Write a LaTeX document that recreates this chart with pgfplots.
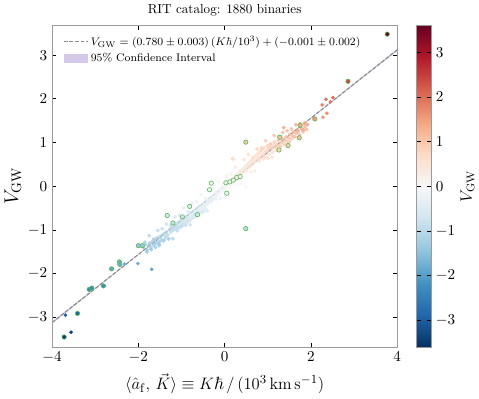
\documentclass[border=0pt]{standalone}
\usepackage{pgfplots}
\pgfplotsset{compat=1.18}
\usepackage{pgfplotstable}
\usepackage{amsmath,amssymb}

\definecolor{ringgreen}{HTML}{5DB85D}
\definecolor{ciband}{HTML}{D5C8E8}
\definecolor{fitgray}{HTML}{8C8C8C}
\definecolor{framegray}{HTML}{9A9A9A}

% dense part of the catalogue
\pgfplotstableread{
x y
-1.88 -1.40
-1.84 -1.33
-1.80 -1.45
-1.77 -1.36
-1.74 -1.30
-1.71 -1.41
-1.68 -1.27
-1.65 -1.35
-1.62 -1.22
-1.60 -1.31
-1.57 -1.18
-1.55 -1.27
-1.52 -1.36
-1.50 -1.15
-1.47 -1.21
-1.45 -1.12
-1.42 -1.25
-1.40 -1.08
-1.37 -1.16
-1.35 -1.04
-1.32 -1.11
-1.30 -1.20
-1.27 -0.98
-1.25 -1.05
-1.22 -0.94
-1.20 -1.01
-1.18 -0.90
-1.16 -0.97
-1.14 -0.86
-1.12 -0.93
-1.10 -1.02
-1.08 -0.82
-1.06 -0.89
-1.04 -0.95
-1.02 -0.78
-1.00 -0.84
-0.98 -0.90
-0.96 -0.74
-0.94 -0.80
-0.92 -0.86
-0.90 -0.69
-0.88 -0.76
-0.86 -0.82
-0.84 -0.64
-0.82 -0.72
-0.80 -0.78
-0.78 -0.60
-0.76 -0.67
-0.74 -0.73
-0.72 -0.56
-0.70 -0.63
-0.68 -0.70
-0.66 -0.52
-0.64 -0.59
-0.62 -0.66
-0.60 -0.47
-0.58 -0.55
-0.56 -0.61
-0.54 -0.43
-0.52 -0.50
-0.50 -0.57
-0.48 -0.39
-0.46 -0.45
-0.44 -0.52
-0.42 -0.35
-0.41 -0.41
-0.39 -0.33
-0.37 -0.38
-0.35 -0.30
-0.33 -0.26
-0.31 -0.34
-0.29 -0.22
-0.27 -0.28
-0.25 -0.19
-0.23 -0.25
-0.21 -0.15
-0.19 -0.21
-0.17 -0.12
-0.15 -0.18
-0.13 -0.08
-0.11 -0.14
-0.09 -0.05
-0.07 -0.10
-0.05 -0.02
-0.03 -0.07
-0.01 0.01
0.01 -0.03
0.03 0.04
0.05 0.00
0.07 0.08
0.09 0.03
0.11 0.11
0.13 0.06
0.15 0.14
0.17 0.09
0.19 0.18
0.21 0.12
0.23 0.21
0.25 0.15
0.27 0.25
0.29 0.19
0.31 0.28
0.33 0.22
0.35 0.32
0.37 0.26
0.39 0.36
0.41 0.30
0.43 0.40
0.45 0.34
0.47 0.44
0.49 0.38
0.51 0.48
0.53 0.41
0.55 0.52
0.57 0.45
0.59 0.56
0.61 0.48
0.63 0.60
0.65 0.52
0.67 0.64
0.69 0.56
0.71 0.68
0.73 0.59
0.75 0.72
0.77 0.63
0.79 0.76
0.81 0.66
0.83 0.80
0.85 0.70
0.87 0.84
0.89 0.73
0.91 0.88
0.93 0.77
0.95 0.66
0.97 0.81
0.99 0.92
1.01 0.84
1.03 0.73
1.05 0.88
1.07 0.97
1.09 0.87
1.11 0.78
1.13 0.92
1.15 1.01
1.17 0.90
1.19 0.82
1.21 0.96
1.24 1.05
1.27 0.93
1.30 1.00
1.33 1.09
1.36 0.98
1.39 1.05
1.42 1.13
1.45 1.03
1.48 1.11
1.51 1.19
1.54 1.08
1.57 1.16
1.60 1.24
1.63 1.13
1.66 1.21
1.70 1.28
1.74 1.18
1.78 1.32
1.82 1.25
1.86 1.36
1.90 1.30
-1.85 -1.28
-1.80 -1.50
-1.75 -1.13
-1.70 -1.45
-1.65 -1.21
-1.60 -1.40
-1.55 -1.01
-1.50 -1.27
-1.45 -0.97
-1.40 -1.23
-1.35 -0.87
-1.30 -1.21
-1.25 -0.90
-1.20 -1.20
-1.15 -0.70
-1.10 -0.96
-1.05 -0.66
-1.00 -0.92
-0.95 -0.50
-0.90 -0.90
-0.85 -0.58
-0.80 -0.88
-0.75 -0.39
-0.70 -0.65
-0.65 -0.35
-0.60 -0.61
-0.55 -0.19
-0.50 -0.59
-0.45 -0.27
-0.40 -0.57
-0.35 -0.07
-0.30 -0.33
-0.25 -0.04
-0.20 -0.30
-0.15 0.12
-0.10 -0.28
-0.05 0.04
0.00 -0.26
0.05 0.24
0.10 -0.02
0.15 0.28
0.20 0.02
0.25 0.44
0.30 0.03
0.35 0.35
0.40 0.05
0.45 0.61
0.50 0.35
0.55 0.73
0.60 0.33
0.65 0.65
0.70 0.35
0.75 0.85
0.80 0.58
0.85 0.88
0.90 0.62
0.95 1.04
1.00 0.64
1.05 0.96
1.10 0.66
1.15 1.16
1.20 0.90
1.25 1.14
1.30 0.91
1.35 1.23
1.40 0.95
1.45 1.27
1.50 1.01
1.55 1.31
1.60 1.13
1.65 1.41
1.70 1.25
1.75 1.43
1.80 1.30
}\cloud

% isolated points
\pgfplotstableread{
x y
-3.56 -3.34
-3.69 -2.95
-2.32 -1.78
-2.01 -1.77
-1.69 -1.90
-1.52 -1.33
0.18 0.64
0.20 0.62
0.49 -0.02
1.37 1.34
1.83 1.29
1.85 1.44
1.92 1.41
2.28 1.58
2.37 1.67
2.26 1.86
2.45 1.93
2.35 1.99
2.51 2.03
}\sparse

% points drawn with a green edge
\pgfplotstableread{
x y
-3.72 -3.45
-3.41 -2.91
-3.14 -2.36
-3.08 -2.33
-2.81 -2.28
-2.62 -1.89
-2.44 -1.73
-2.43 -1.79
-2.00 -1.36
-1.91 -1.36
-1.33 -0.67
-1.20 -0.84
-0.98 -0.70
-0.81 -0.46
-0.63 -0.65
-0.35 -0.08
-0.31 0.07
0.05 -0.16
0.03 0.08
0.12 0.10
0.20 0.14
0.28 0.20
0.36 0.22
0.49 1.01
0.49 -0.97
1.26 0.83
1.28 1.12
1.47 0.93
1.73 1.11
1.75 1.39
2.09 1.54
2.86 2.40
3.77 3.48
}\ringed

\begin{document}
\begin{tikzpicture}
\begin{axis}[
  scale only axis, width=250pt, height=233pt,
  xmin=-4, xmax=4, ymin=-3.68, ymax=3.68,
  xtick={-4,-2,0,2,4}, ytick={-3,...,3},
  tick align=inside, major tick length=3pt,
  axis line style={framegray},
  tick style={black, line width=0.5pt},
  ticklabel style={font=\fontsize{11}{13}\selectfont},
  title={RIT catalog: 1880 binaries},
  title style={font=\fontsize{9.5}{11}\selectfont, yshift=-3pt},
  xlabel={$\langle \hat{a}_\mathrm{f},\, \vec{K}\rangle \equiv K\hbar\,/\,(10^3\,\mathrm{km\,s^{-1}})$},
  ylabel={$V_\mathrm{GW}$},
  xlabel style={font=\fontsize{12.8}{15}\selectfont, yshift=-1pt},
  ylabel style={font=\fontsize{14}{16}\selectfont, yshift=-2pt},
  colormap={rdbur}{rgb255=(5,48,97) rgb255=(33,102,172) rgb255=(67,147,195)
    rgb255=(146,197,222) rgb255=(209,229,240) rgb255=(247,247,247)
    rgb255=(253,219,199) rgb255=(244,165,130) rgb255=(214,96,77)
    rgb255=(178,24,43) rgb255=(103,0,31)},
  point meta min=-3.6, point meta max=3.6,
  colorbar,
  colorbar style={
    at={(parent axis.north east)}, anchor=north west, xshift=5.5pt,
    width=10.5pt,
    ytick={-3,...,3},
    axis line style={framegray},
    tick align=inside, major tick length=3pt,
    ticklabel style={font=\fontsize{11}{13}\selectfont},
    ylabel={$V_\mathrm{GW}$},
    ylabel style={font=\fontsize{12}{14}\selectfont, yshift=3pt},
  },
  legend style={draw=none, fill=none, at={(0.02,0.985)}, anchor=north west,
                font=\footnotesize},
  legend cell align=left,
]
\addlegendimage{fitgray, line width=0.8pt, dash pattern=on 2.8pt off 1.2pt}
\addlegendentry{$V_\mathrm{GW} = (0.780 \pm 0.003)\,(K\hbar/10^3) + (-0.001 \pm 0.002)$}
\addlegendimage{area legend, fill=ciband, draw=ciband}
\addlegendentry{95\% Confidence Interval}

\addplot[scatter, only marks, mark=*, mark size=1.2pt, point meta=y, forget plot,
  scatter/use mapped color={draw=mapped color, fill=mapped color, opacity=0.7}]
  table {\cloud};
\addplot[scatter, only marks, mark=*, mark size=1.1pt, point meta=y, forget plot,
  scatter/use mapped color={draw=mapped color, fill=mapped color}]
  table {\sparse};
\addplot[scatter, only marks, mark=*, mark size=1.6pt, point meta=y, forget plot,
  scatter/use mapped color={draw=ringgreen, fill=mapped color, line width=0.45pt}]
  table {\ringed};

\addplot[fill=ciband, draw=none, forget plot] coordinates {
  (-4,-3.097)(-2,-1.549)(0,0.003)(2,1.571)(4,3.143)
  (4,3.095)(2,1.547)(0,-0.005)(-2,-1.573)(-4,-3.145)};
\addplot[fitgray, line width=0.8pt, dash pattern=on 2.8pt off 1.2pt, forget plot]
  coordinates {(-4,-3.121)(4,3.119)};
\end{axis}
\end{tikzpicture}
\end{document}
